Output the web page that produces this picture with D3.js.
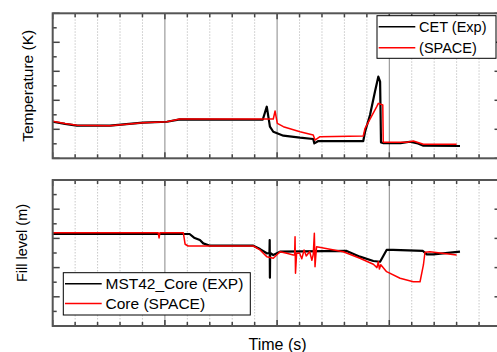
<!DOCTYPE html>
<html lang="en">
<head>
    <meta charset="UTF-8">
    <title>CET and fill level</title>
    <style>
        body {
            margin: 0;
            background-color: white;
            font-family: "Liberation Sans", Arial, sans-serif;
        }
        svg { display: block; }
    </style>
    <script src="https://d3js.org/d3.v7.min.js"></script>
</head>
<body>
    <div id="chart"></div>
    <script>
        // Top panel: core exit temperature, arbitrary units
        const cetTime = [0, 0.55, 1.08, 2.55, 4.02, 5.09, 5.67, 9.36, 9.54, 9.68, 9.83, 10.28, 11.02, 11.61, 11.66, 11.84, 13.84, 13.92, 14.14, 14.36, 14.51, 14.59, 14.63, 14.72, 15.5, 15.92, 16.22, 16.52, 18.15];
        const cetExp = [2.52, 2.37, 2.25, 2.25, 2.46, 2.52, 2.68, 2.66, 3.56, 2.18, 1.83, 1.56, 1.42, 1.33, 1.03, 1.19, 1.19, 1.83, 2.99, 4.59, 5.63, 5.28, 1.10, 1.05, 1.05, 1.14, 1.05, 0.87, 0.85];

        const spaceTime = [0, 0.55, 1.08, 2.55, 4.02, 5.09, 5.67, 9.83, 9.91, 10.01, 10.28, 11.02, 11.61, 11.69, 11.91, 13.84, 13.92, 14.44, 14.51, 14.71, 14.73, 15.03, 15.78, 16.07, 16.52, 18.00];
        const spaceTemp = [2.55, 2.40, 2.28, 2.25, 2.46, 2.52, 2.71, 2.71, 3.26, 2.41, 2.18, 1.83, 1.61, 1.26, 1.49, 1.54, 2.07, 3.56, 3.79, 3.68, 1.10, 1.10, 1.10, 1.19, 0.97, 0.97];

        // Bottom panel: fill level
        const mstTime = [0, 4.78, 6.10, 6.30, 6.56, 6.71, 7.01, 8.94, 9.24, 9.54, 9.66, 9.67, 9.68, 9.69, 9.83, 10.13, 13.10, 13.69, 14.29, 14.59, 14.88, 15.17, 16.50, 16.67, 16.96, 18.15];
        const mstCore = [6.30, 6.30, 6.30, 6.05, 5.89, 5.66, 5.50, 5.50, 5.27, 4.98, 5.00, 5.89, 3.31, 5.00, 4.86, 5.09, 5.14, 4.75, 4.45, 4.40, 5.21, 5.21, 5.14, 4.91, 4.91, 5.09];

        const coreTime = [0, 4.70, 4.74, 4.78, 5.82, 5.90, 6.04, 6.50, 8.94, 9.24, 9.54, 9.83, 10.13, 10.43, 10.72, 10.78, 10.80, 10.82, 10.87, 11.00, 11.10, 11.20, 11.30, 11.45, 11.55, 11.61, 11.66, 11.69, 11.72, 11.76, 12.95, 13.69, 14.29, 14.45, 14.51, 14.56, 14.62, 14.88, 15.48, 16.07, 16.37, 16.52, 16.59, 16.81, 18.00];
        const coreSpace = [6.39, 6.39, 6.03, 6.39, 6.39, 5.60, 5.48, 5.48, 5.48, 5.21, 4.75, 4.64, 5.09, 4.98, 4.86, 4.86, 6.12, 3.61, 4.98, 5.00, 4.60, 5.20, 4.80, 5.10, 4.50, 4.90, 6.35, 4.06, 4.70, 5.43, 5.09, 4.64, 4.23, 4.00, 4.40, 3.90, 4.20, 3.72, 3.27, 3.03, 3.03, 4.18, 5.05, 5.09, 4.86];

        const xMajor = [0, 5, 10, 15, 20];
        const xMinor = d3.range(0, 21);
        const yMajor = [0, 2, 4, 6, 8, 10];
        const yMinor = d3.range(0, 11);

        const width = 497;
        const height = 352;

        const svg = d3.select('#chart').append('svg')
            .attr('width', width)
            .attr('height', height);

        const x = d3.scaleLinear().domain([0, 20]).range([52.7, 501.5]);

        const panels = [
            {
                top: 13.3, bottom: 158.3, label: 'Temperature (K)', labelX: 27, labelSize: 15.5,
                series: [
                    { t: cetTime, v: cetExp, color: '#000', w: 2.2, name: 'CET (Exp)' },
                    { t: spaceTime, v: spaceTemp, color: '#ff0000', w: 1.5, name: '(SPACE)' }
                ],
                legend: { x: 377, y: 15.7, w: 119, h: 42.6, rowGap: 21, lineLen: 36.6, size: 14.5 }
            },
            {
                top: 180, bottom: 326, label: 'Fill level (m)', labelX: 22, labelSize: 14.5, labelShift: -10,
                series: [
                    { t: mstTime, v: mstCore, color: '#000', w: 2.2, name: 'MST42_Core (EXP)' },
                    { t: coreTime, v: coreSpace, color: '#ff0000', w: 1.5, name: 'Core (SPACE)' }
                ],
                legend: { x: 63.3, y: 272.7, w: 187, h: 42.3, rowGap: 19.7, lineLen: 36.7, size: 15.5 }
            }
        ];

        panels.forEach(p => {
            const y = d3.scaleLinear().domain([0, 10]).range([p.bottom, p.top]);
            const g = svg.append('g');

            // vertical grid
            g.selectAll('line.minor').data(xMinor.filter(d => d % 5 !== 0)).enter().append('line')
                .attr('x1', d => x(d)).attr('x2', d => x(d))
                .attr('y1', p.top).attr('y2', p.bottom)
                .attr('stroke', '#c8c8c8').attr('stroke-width', 1).attr('stroke-dasharray', '1.5,1.5');
            g.selectAll('line.major').data(xMajor.slice(1, -1)).enter().append('line')
                .attr('x1', d => x(d)).attr('x2', d => x(d))
                .attr('y1', p.top).attr('y2', p.bottom)
                .attr('stroke', '#888').attr('stroke-width', 1);

            // ticks, all pointing inward
            const tickCol = '#444';
            const yTicks = yMinor.map(d => ({ v: d, len: d % 2 === 0 ? 7 : 4 }));
            yTicks.forEach(d => {
                g.append('line').attr('x1', x(0)).attr('x2', x(0) + d.len)
                    .attr('y1', y(d.v)).attr('y2', y(d.v)).attr('stroke', tickCol).attr('stroke-width', 1.5);
                g.append('line').attr('x1', x(20)).attr('x2', x(20) - d.len)
                    .attr('y1', y(d.v)).attr('y2', y(d.v)).attr('stroke', tickCol).attr('stroke-width', 1.5);
            });
            xMinor.forEach(d => {
                const len = d % 5 === 0 ? 6 : 4;
                g.append('line').attr('x1', x(d)).attr('x2', x(d))
                    .attr('y1', p.top).attr('y2', p.top + len).attr('stroke', tickCol).attr('stroke-width', 1.5);
                g.append('line').attr('x1', x(d)).attr('x2', x(d))
                    .attr('y1', p.bottom).attr('y2', p.bottom - len).attr('stroke', tickCol).attr('stroke-width', 1.5);
            });

            // data lines
            p.series.forEach(s => {
                const pts = s.t.map((t, i) => [t, s.v[i]]);
                g.append('path')
                    .datum(pts)
                    .attr('fill', 'none')
                    .attr('stroke', s.color)
                    .attr('stroke-width', s.w)
                    .attr('stroke-linejoin', 'round')
                    .attr('d', d3.line().x(d => x(d[0])).y(d => y(d[1])));
            });

            // frame
            g.append('rect')
                .attr('x', x(0)).attr('y', p.top)
                .attr('width', x(20) - x(0)).attr('height', p.bottom - p.top)
                .attr('fill', 'none').attr('stroke', '#555').attr('stroke-width', 2);

            // y label
            const cy = (p.top + p.bottom) / 2 + (p.labelShift || 0);
            g.append('text')
                .attr('transform', `translate(${p.labelX},${cy}) rotate(-90)`)
                .attr('text-anchor', 'middle')
                .attr('dominant-baseline', 'central')
                .attr('font-size', p.labelSize)
                .text(p.label);

            // legend
            const L = p.legend;
            const lg = g.append('g');
            lg.append('rect')
                .attr('x', L.x).attr('y', L.y).attr('width', L.w).attr('height', L.h)
                .attr('fill', 'white').attr('stroke', '#000').attr('stroke-width', 1);
            p.series.forEach((s, i) => {
                const ly = L.y + 11 + i * L.rowGap;
                lg.append('line')
                    .attr('x1', L.x + 1.7).attr('x2', L.x + 1.7 + L.lineLen)
                    .attr('y1', ly).attr('y2', ly)
                    .attr('stroke', s.color).attr('stroke-width', 1.5);
                lg.append('text')
                    .attr('x', L.x + L.lineLen + 5.5)
                    .attr('y', ly)
                    .attr('dominant-baseline', 'central')
                    .attr('font-size', L.size)
                    .text(s.name);
            });
        });

        svg.append('text')
            .attr('x', 277.5).attr('y', 350)
            .attr('text-anchor', 'middle')
            .attr('font-size', 16)
            .text('Time (s)');
    </script>
</body>
</html>
